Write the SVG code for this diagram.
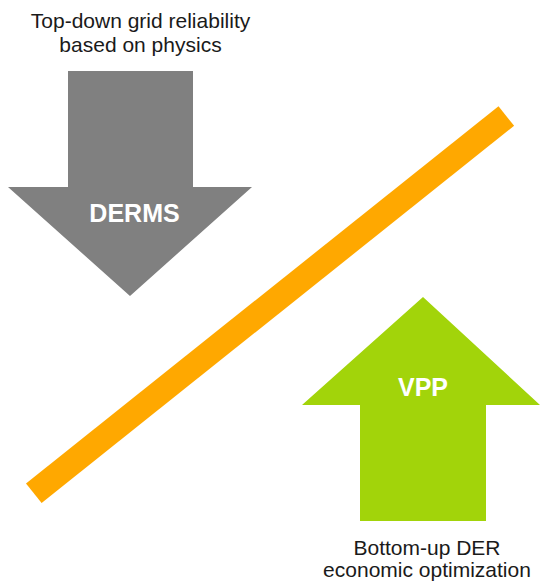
<svg xmlns="http://www.w3.org/2000/svg" width="540" height="584" viewBox="0 0 540 584">
<style>
.lbl{font-family:"Liberation Sans",Arial,sans-serif;font-size:21px;fill:#1a1a1a;text-anchor:middle}
.in{font-family:"Liberation Sans",Arial,sans-serif;font-weight:bold;font-size:25px;fill:#ffffff;text-anchor:middle}
</style>
<rect width="540" height="584" fill="#ffffff"/>
<g id="divider">
<line x1="33.8" y1="493.3" x2="506.3" y2="116" stroke="#FFA800" stroke-width="25"/>
</g>
<g id="derms">
<polygon points="68,71 193,71 193,187 252,187 130,296 8,187 68,187" fill="#808080"/>
<text class="in" x="134.5" y="222">DERMS</text>
<text class="lbl" x="140.5" y="28">Top-down grid reliability</text>
<text class="lbl" x="140.5" y="52">based on physics</text>
</g>
<g id="vpp">
<polygon points="360,521 486,521 486,405 540,405 423,297 302,405 360,405" fill="#A2D40A"/>
<text class="in" x="423" y="396">VPP</text>
<text class="lbl" x="427" y="555">Bottom-up DER</text>
<text class="lbl" x="427" y="577">economic optimization</text>
</g>
</svg>
